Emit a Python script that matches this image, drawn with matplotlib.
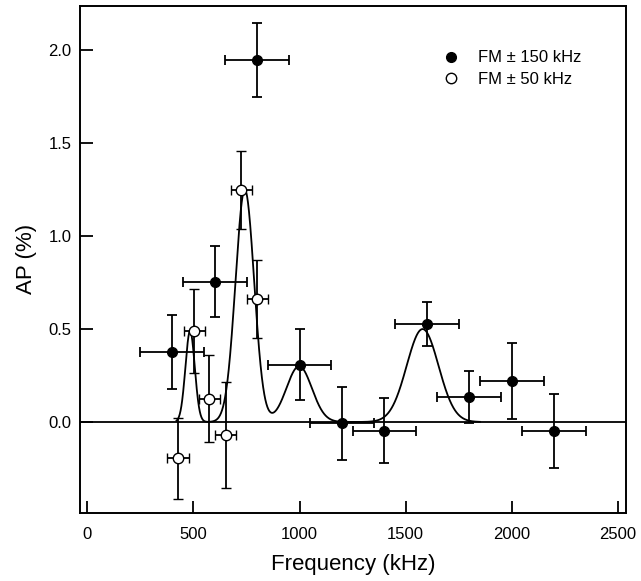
import numpy as np
import matplotlib
matplotlib.use("Agg")
import matplotlib.pyplot as plt

plt.rcParams['font.family'] = ['Liberation Sans', 'DejaVu Sans']

# FM +/- 150 kHz (filled)
freq_150 = [400, 600, 800, 1000, 1200, 1400, 1600, 1800, 2000, 2200]
ap_150 = [0.375, 0.755, 1.948, 0.308, -0.007, -0.048, 0.527, 0.135, 0.219, -0.05]
yerr_150 = [0.20, 0.19, 0.20, 0.19, 0.195, 0.175, 0.12, 0.14, 0.205, 0.20]
xerr_150 = 150

# FM +/- 50 kHz (open)
freq_50 = [427, 503, 575, 652, 726, 801]
ap_50 = [-0.196, 0.491, 0.126, -0.07, 1.247, 0.662]
yerr_50 = [0.22, 0.225, 0.233, 0.287, 0.21, 0.21]
xerr_50 = 50

# fitted curve: sum of gaussian peaks
peak_centers = [484, 742, 998, 1580]
peak_heights = [0.49, 1.25, 0.30, 0.50]
peak_sigmas = [22, 44, 60, 75]
curve_start, curve_end = 420, 1850

fig = plt.figure(figsize=(6.41, 5.81), dpi=100)
ax = fig.add_axes([0.1248, 0.1176, 0.8512, 0.8729])

ax.axhline(0, color='black', lw=1.3, zorder=1)

xc = np.linspace(curve_start, curve_end, 1500)
yc = np.zeros_like(xc)
for c, h, s in zip(peak_centers, peak_heights, peak_sigmas):
    yc += h * np.exp(-(xc - c) ** 2 / (2 * s ** 2))
ax.plot(xc, yc, color='black', lw=1.3, zorder=2)

ax.errorbar(freq_150, ap_150, xerr=xerr_150, yerr=yerr_150, fmt='o', color='black',
            mfc='black', mec='black', ms=7, elinewidth=1.3, capsize=3.5, capthick=1.3,
            label='FM ± 150 kHz', zorder=3)
ax.errorbar(freq_50, ap_50, xerr=xerr_50, yerr=yerr_50, fmt='o', color='black',
            mfc='white', mec='black', mew=1.0, ms=7.5, elinewidth=1.3, capsize=3.5, capthick=1.3,
            label='FM ± 50 kHz', zorder=4)

ax.set_xlim(-35, 2537)
ax.set_ylim(-0.488, 2.241)
ax.set_xticks([0, 500, 1000, 1500, 2000, 2500])
ax.set_yticks([0.0, 0.5, 1.0, 1.5, 2.0])
ax.set_yticklabels(['0.0', '0.5', '1.0', '1.5', '2.0'])
ax.tick_params(direction='in', length=9, width=1.3, labelsize=12, top=False, right=False)
ax.tick_params(axis='x', pad=10)
ax.tick_params(axis='y', pad=6)
for sp in ax.spines.values():
    sp.set_linewidth(1.4)

ax.set_xlabel('Frequency (kHz)', fontsize=16, labelpad=9)
ax.set_ylabel('AP (%)', fontsize=16, labelpad=8)

handles, labels = ax.get_legend_handles_labels()
handles = [h[0] for h in handles]
ax.legend(handles, labels, loc='upper left', bbox_to_anchor=(0.647, 0.928), frameon=False,
          fontsize=12, handlelength=1.2, handletextpad=1.0, labelspacing=0.38, borderpad=0)

fig.savefig('out.png', dpi=100)
